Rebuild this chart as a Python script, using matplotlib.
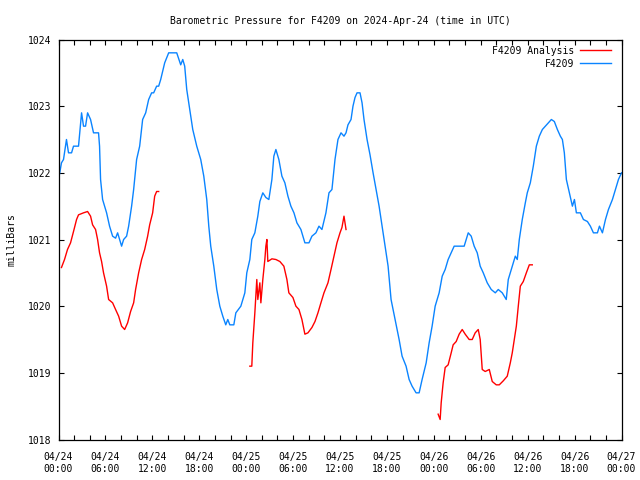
import numpy as np
import pandas as pd
import matplotlib
matplotlib.use("Agg")
import matplotlib.pyplot as plt
import matplotlib.dates as mdates

# hours after 2024-04-24 00:00 UTC, pressure in mb
obs_hours = [0.0, 0.13, 0.38, 0.64, 1.02, 1.28, 1.67, 1.92, 2.56, 2.95, 3.2, 3.46, 3.72, 4.1,
             4.48, 5.12, 5.25, 5.38, 5.64, 6.15, 6.53, 6.92, 7.3, 7.56, 7.81, 8.07, 8.33, 8.71,
             8.97, 9.35, 9.61, 9.99, 10.38, 10.76, 11.15, 11.53, 11.91, 12.17, 12.55, 12.81,
             13.07, 13.58, 14.09, 14.6, 15.12, 15.63, 15.89, 16.14, 16.4, 16.78, 17.17, 17.68,
             18.19, 18.58, 18.96, 19.22, 19.47, 19.86, 20.24, 20.63, 21.01, 21.39, 21.65, 21.91,
             22.42, 22.68, 23.32, 23.57, 23.83, 24.08, 24.47, 24.72, 25.11, 25.49, 25.75, 26.13,
             26.52, 26.9, 27.29, 27.54, 27.8, 28.18, 28.57, 28.95, 29.34, 29.72, 30.11, 30.49,
             31.0, 31.51, 32.03, 32.41, 32.92, 33.31, 33.69, 34.2, 34.59, 34.97, 35.36, 35.74,
             36.13, 36.51, 36.77, 37.02, 37.41, 37.66, 37.92, 38.18, 38.56, 38.82, 39.07, 39.46,
             39.84, 40.23, 40.61, 41.0, 41.38, 41.76, 42.15, 42.53, 43.04, 43.56, 43.94, 44.45,
             44.84, 45.22, 45.73, 46.12, 46.5, 47.02, 47.4, 47.78, 48.17, 48.68, 49.07, 49.45,
             49.83, 50.22, 50.6, 51.24, 51.88, 52.4, 52.78, 53.16, 53.55, 53.93, 54.32, 54.83,
             55.34, 55.86, 56.24, 56.75, 57.26, 57.52, 58.03, 58.42, 58.67, 58.93, 59.31, 59.7,
             59.95, 60.34, 60.72, 61.11, 61.49, 61.88, 62.26, 62.65, 63.03, 63.41, 63.8, 64.18,
             64.44, 64.69, 64.95, 65.33, 65.72, 65.98, 66.23, 66.74, 67.13, 67.64, 68.02, 68.41,
             68.92, 69.18, 69.56, 69.95, 70.33, 70.84, 71.23, 71.61, 72.0]
obs_mb = [1022.0, 1021.98, 1022.15, 1022.2, 1022.5, 1022.3, 1022.3, 1022.4, 1022.4, 1022.9,
          1022.7, 1022.7, 1022.9, 1022.8, 1022.6, 1022.6, 1022.4, 1021.9, 1021.6, 1021.4,
          1021.2, 1021.05, 1021.02, 1021.1, 1021.0, 1020.9, 1021.0, 1021.05, 1021.2, 1021.5,
          1021.75, 1022.2, 1022.4, 1022.8, 1022.9, 1023.1, 1023.2, 1023.2, 1023.3, 1023.3,
          1023.4, 1023.65, 1023.8, 1023.8, 1023.8, 1023.62, 1023.7, 1023.6, 1023.25, 1022.95,
          1022.65, 1022.4, 1022.2, 1021.95, 1021.6, 1021.2, 1020.9, 1020.6, 1020.25, 1020.0,
          1019.85, 1019.72, 1019.8, 1019.72, 1019.72, 1019.9, 1020.0, 1020.1, 1020.2, 1020.5,
          1020.7, 1021.0, 1021.1, 1021.35, 1021.57, 1021.7, 1021.63, 1021.6, 1021.9, 1022.25,
          1022.35, 1022.2, 1021.95, 1021.85, 1021.65, 1021.5, 1021.4, 1021.25, 1021.15, 1020.95,
          1020.95, 1021.05, 1021.1, 1021.2, 1021.15, 1021.4, 1021.7, 1021.75, 1022.2, 1022.5,
          1022.6, 1022.55, 1022.6, 1022.72, 1022.8, 1023.0, 1023.13, 1023.2, 1023.2, 1023.05,
          1022.8, 1022.5, 1022.27, 1022.0, 1021.75, 1021.5, 1021.2, 1020.9, 1020.6, 1020.1,
          1019.8, 1019.5, 1019.25, 1019.1, 1018.9, 1018.8, 1018.7, 1018.7, 1018.9, 1019.15,
          1019.45, 1019.7, 1020.0, 1020.2, 1020.45, 1020.55, 1020.7, 1020.8, 1020.9, 1020.9,
          1020.9, 1021.1, 1021.05, 1020.9, 1020.8, 1020.6, 1020.5, 1020.35, 1020.25, 1020.2,
          1020.25, 1020.2, 1020.1, 1020.4, 1020.6, 1020.75, 1020.7, 1021.0, 1021.3, 1021.55,
          1021.7, 1021.85, 1022.1, 1022.4, 1022.55, 1022.65, 1022.7, 1022.75, 1022.8, 1022.77,
          1022.65, 1022.55, 1022.5, 1022.3, 1021.9, 1021.7, 1021.5, 1021.6, 1021.4, 1021.4,
          1021.3, 1021.27, 1021.2, 1021.1, 1021.1, 1021.2, 1021.1, 1021.3, 1021.45, 1021.6,
          1021.75, 1021.9, 1022.0]

# analysis runs (three separate pieces)
ana1_hours = [0.38, 0.77, 1.15, 1.54, 1.92, 2.31, 2.56, 3.2, 3.72, 4.1, 4.36, 4.74, 5.0, 5.25,
              5.51, 5.76, 6.15, 6.41, 6.92, 7.3, 7.69, 8.07, 8.46, 8.84, 9.22, 9.61, 9.86,
              10.25, 10.63, 11.02, 11.4, 11.66, 12.04, 12.3, 12.55, 12.81]
ana1_mb = [1020.58, 1020.7, 1020.85, 1020.95, 1021.12, 1021.3, 1021.37, 1021.4, 1021.42,
           1021.35, 1021.22, 1021.15, 1021.0, 1020.8, 1020.67, 1020.5, 1020.3, 1020.1, 1020.05,
           1019.95, 1019.85, 1019.7, 1019.65, 1019.75, 1019.92, 1020.05, 1020.25, 1020.5,
           1020.7, 1020.85, 1021.05, 1021.22, 1021.4, 1021.65, 1021.72, 1021.72]
ana2_hours = [24.47, 24.72, 24.85, 25.11, 25.36, 25.49, 25.75, 25.88, 26.13, 26.39, 26.52,
              26.65, 26.77, 27.29, 27.8, 28.31, 28.82, 29.21, 29.46, 29.98, 30.36, 30.75,
              31.13, 31.51, 31.9, 32.41, 32.8, 33.18, 33.56, 33.95, 34.46, 34.85, 35.23, 35.61,
              36.0, 36.25, 36.51, 36.77]
ana2_mb = [1019.1, 1019.1, 1019.45, 1019.9, 1020.4, 1020.1, 1020.35, 1020.05, 1020.4, 1020.7,
           1020.9, 1021.0, 1020.67, 1020.71, 1020.7, 1020.67, 1020.6, 1020.4, 1020.2, 1020.13,
           1020.0, 1019.95, 1019.8, 1019.58, 1019.6, 1019.68, 1019.77, 1019.9, 1020.05, 1020.2,
           1020.35, 1020.55, 1020.75, 1020.95, 1021.1, 1021.18, 1021.35, 1021.15]
ana3_hours = [48.55, 48.81, 48.94, 49.19, 49.45, 49.83, 50.22, 50.47, 50.86, 51.24, 51.63,
              52.01, 52.52, 52.91, 53.29, 53.68, 53.93, 54.19, 54.57, 55.09, 55.47, 55.98,
              56.37, 56.88, 57.39, 57.78, 58.03, 58.29, 58.55, 58.8, 59.06, 59.44, 59.83,
              60.21, 60.59]
ana3_mb = [1018.38, 1018.3, 1018.55, 1018.85, 1019.08, 1019.12, 1019.3, 1019.42, 1019.47,
           1019.58, 1019.65, 1019.58, 1019.5, 1019.5, 1019.6, 1019.65, 1019.5, 1019.05, 1019.02,
           1019.05, 1018.87, 1018.82, 1018.82, 1018.88, 1018.95, 1019.15, 1019.3, 1019.5,
           1019.7, 1020.0, 1020.3, 1020.37, 1020.5, 1020.62, 1020.62]

start = pd.Timestamp("2024-04-24 00:00")


def to_time(hours):
    return (start + pd.to_timedelta(np.asarray(hours, dtype=float), unit="h")).to_pydatetime()


mono = "DejaVu Sans Mono"
plt.rcParams["font.family"] = mono
plt.rcParams["font.size"] = 7

fig = plt.figure(figsize=(6.4, 4.8), dpi=100)
ax = fig.add_axes([58.5 / 640, 40.5 / 480, 563 / 640, 400 / 480])

# analysis pieces drawn separately so there are gaps between them
pieces = [(ana1_hours, ana1_mb), (ana2_hours, ana2_mb), (ana3_hours, ana3_mb)]
for i, (hrs, mb) in enumerate(pieces):
    ax.plot(to_time(hrs), mb, color="#ff0000", lw=1.0,
            label="F4209 Analysis" if i == 0 else None)
ax.plot(to_time(obs_hours), obs_mb, color="#0a84ff", lw=1.0, label="F4209")

ax.set_xlim(start.to_pydatetime(), (start + pd.Timedelta(hours=72)).to_pydatetime())
ax.set_ylim(1018, 1024)
ax.set_yticks(np.arange(1018, 1025, 1))

ax.xaxis.set_major_locator(mdates.HourLocator(byhour=range(0, 24, 6)))
ax.xaxis.set_minor_locator(mdates.HourLocator(byhour=range(0, 24, 2)))
ax.xaxis.set_major_formatter(mdates.DateFormatter("%m/%d\n%H:%M"))

ax.tick_params(which="both", direction="in", top=True, right=True, length=3.5,
               width=0.8, labelsize=7)
ax.tick_params(axis="x", pad=9)
ax.tick_params(axis="y", pad=5)
for s in ax.spines.values():
    s.set_linewidth(0.9)

ax.set_title("Barometric Pressure for F4209 on 2024-Apr-24 (time in UTC)", fontsize=7, pad=11)
ax.set_ylabel("milliBars", fontsize=7, labelpad=8)

leg = ax.legend(loc="upper right", bbox_to_anchor=(0.9805, 0.984), frameon=False,
                markerfirst=False, fontsize=7, handlelength=3.1, handletextpad=0.6,
                labelspacing=0.3, borderaxespad=0, borderpad=0)

fig.savefig("out.png", dpi=100)
